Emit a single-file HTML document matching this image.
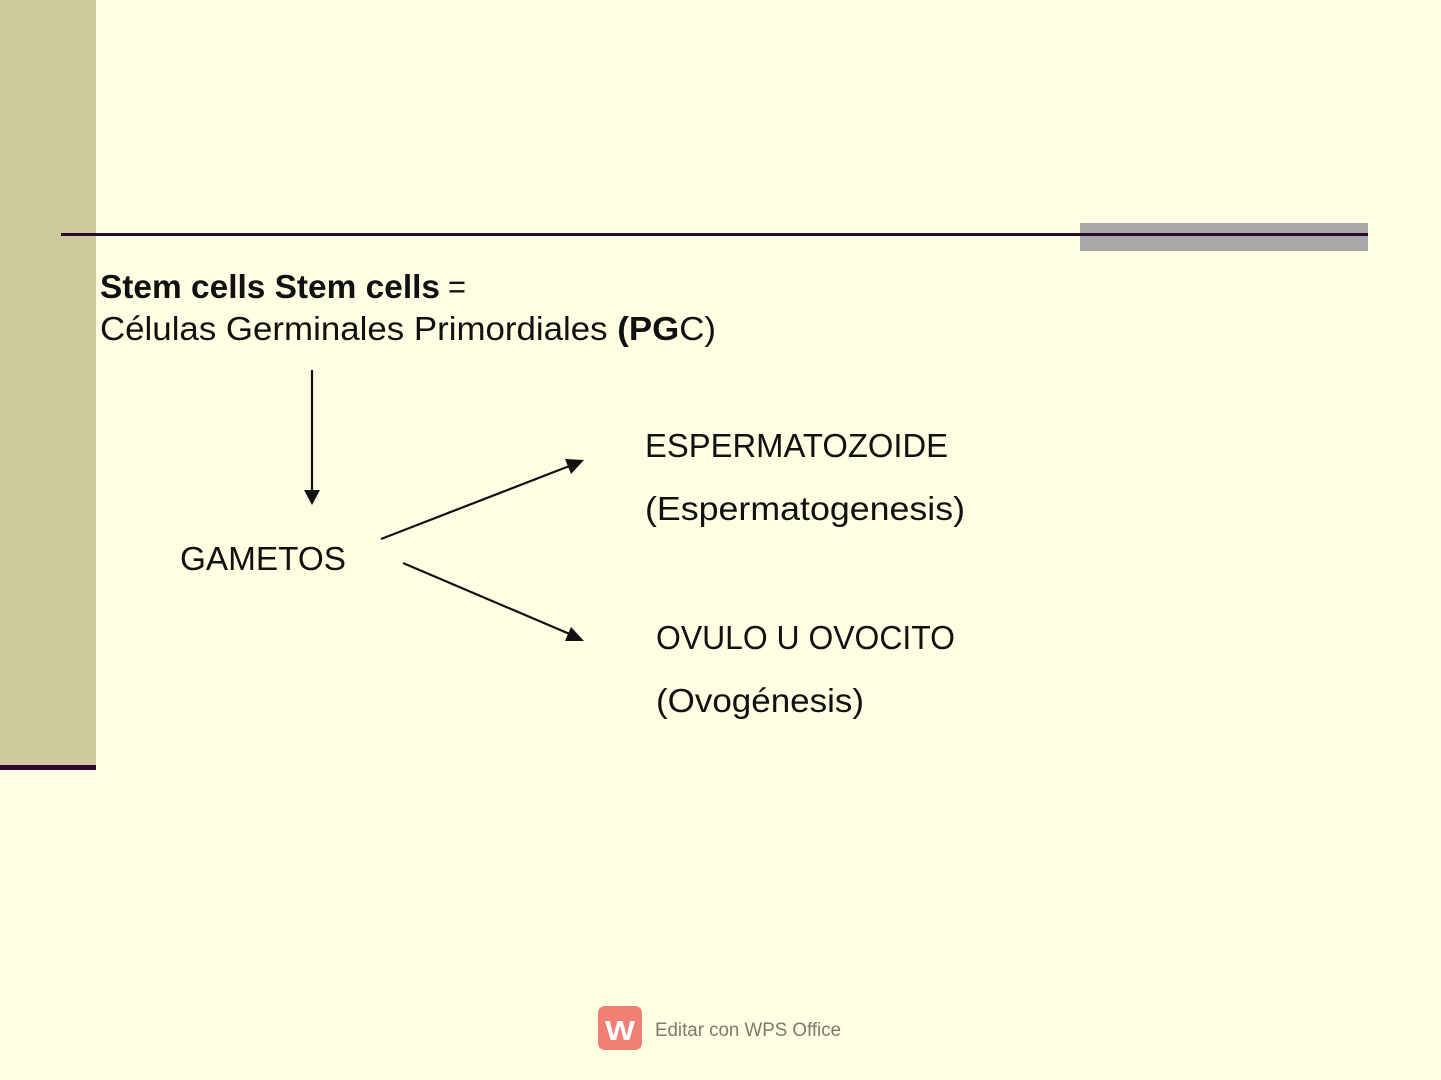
<!DOCTYPE html>
<html><head><meta charset="utf-8"><style>
html,body{margin:0;padding:0;background:#FEFEE2;}
svg{display:block;}
text{font-family:"Liberation Sans",sans-serif;fill:#111;}
</style></head><body>
<svg width="1441" height="1080" viewBox="0 0 1441 1080" xmlns="http://www.w3.org/2000/svg">
<rect width="1441" height="1080" fill="#FEFEE2"/>
<rect x="0" y="0" width="96" height="767" fill="#CDCB9E"/>
<rect x="0" y="765" width="96" height="5" fill="#2B0A2B"/>
<rect x="1080" y="223" width="288" height="28" fill="#A9A8A9"/>
<rect x="61" y="233" width="1307" height="3" fill="#2B0A2B"/>
<text x="100" y="298" font-size="33" font-weight="bold" textLength="340" lengthAdjust="spacingAndGlyphs">Stem cells Stem cells</text>
<text x="448" y="298" font-size="33" textLength="18" lengthAdjust="spacingAndGlyphs">=</text>
<text x="100" y="340" font-size="33" textLength="616" lengthAdjust="spacingAndGlyphs">Células Germinales Primordiales <tspan font-weight="bold">(PG</tspan>C)</text>
<text x="645" y="457" font-size="33" textLength="303" lengthAdjust="spacingAndGlyphs">ESPERMATOZOIDE</text>
<text x="645" y="520" font-size="33" textLength="320" lengthAdjust="spacingAndGlyphs">(Espermatogenesis)</text>
<text x="180" y="570" font-size="33" textLength="166" lengthAdjust="spacingAndGlyphs">GAMETOS</text>
<text x="656" y="649" font-size="33" textLength="299" lengthAdjust="spacingAndGlyphs">OVULO U OVOCITO</text>
<text x="656" y="712" font-size="33" textLength="208" lengthAdjust="spacingAndGlyphs">(Ovogénesis)</text>
<g stroke="#111" stroke-width="2.2" fill="#111">
<line x1="312" y1="370" x2="312" y2="492"/>
<polygon points="304,490 320,490 312,505" stroke="none"/>
<line x1="381" y1="539" x2="572" y2="465"/>
<polygon points="584,460 565,459 571,474" stroke="none"/>
<line x1="403" y1="563" x2="572" y2="635"/>
<polygon points="584,641 571,627 565,641" stroke="none"/>
</g>
<rect x="598" y="1006" width="44" height="44" rx="7" fill="#EE7F72"/>
<text x="605" y="1040" font-size="28" font-weight="bold" style="fill:#fff" textLength="30" lengthAdjust="spacingAndGlyphs">W</text>
<text x="655" y="1036" font-size="19" style="fill:#7a7a6e" textLength="186" lengthAdjust="spacingAndGlyphs">Editar con WPS Office</text>
</svg>
</body></html>
